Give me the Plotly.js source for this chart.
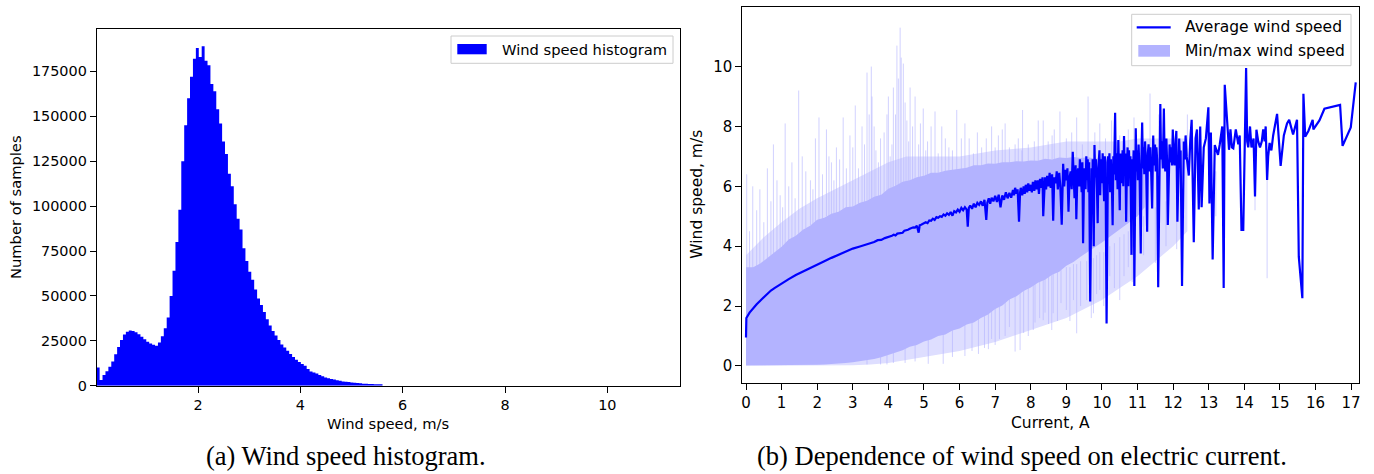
<!DOCTYPE html>
<html>
<head>
<meta charset="utf-8">
<script src="https://cdn.plot.ly/plotly-3.0.1.min.js"></script>
<style>html,body{margin:0;padding:0;background:#fff;}#chart{width:1374px;height:474px;}</style>
</head>
<body>
<div id="chart"></div>
<script>
// ---------- (a) Histogram data ----------
const binStart = 0.02;
const binWidth = 0.057;
const histCounts = [
10200,3200,5900,8000,10500,13500,17500,21500,25500,28500,
30000,30800,30500,29800,28700,27300,25900,24500,23500,22800,
22300,24000,27500,32000,38000,50000,64000,80000,98000,125000,
145000,160000,172000,182000,188000,183000,189000,181000,178500,168000,
164000,154000,146000,136000,129000,118000,111000,101000,93000,87000,
76500,69500,63500,59000,53500,48500,45000,41000,37000,33500,
30500,28000,25500,23000,21300,19500,17600,16000,14400,13200,
12100,11100,9300,7900,7300,6800,6000,5300,4600,4100,
3700,3400,3100,2700,2400,2200,2000,1800,1600,1450,
1300,1150,1050,950,900,850,800,750
];
const histXTicks = [2,4,6,8,10];
const histYTicks = [0,25000,50000,75000,100000,125000,150000,175000];

// ---------- (b) Average wind speed vs current: [current A, wind m/s] ----------
const avgLow = [
[0,0.95],[0.01,1.6],[0.1,1.78],[0.2,1.93],[0.3,2.06],[0.4,2.18],[0.5,2.3],[0.6,2.42],[0.7,2.52],[0.8,2.6],
[0.9,2.68],[1.0,2.75],[1.2,2.9],[1.4,3.04],[1.6,3.16],[1.8,3.28],[2.0,3.38],[2.2,3.5],[2.4,3.61],[2.6,3.72],
[2.8,3.82],[3.0,3.92],[3.2,3.99],[3.4,4.06],[3.5,4.12],[3.6,4.14],[3.7,4.2],[3.8,4.21],[3.9,4.27]
];
const avgMid = [
[4.0,4.3],[4.05,4.33],[4.1,4.35],[4.15,4.38],[4.2,4.36],[4.25,4.42],[4.3,4.43],[4.35,4.46],[4.4,4.45],[4.45,4.52],
[4.5,4.53],[4.55,4.55],[4.6,4.58],[4.65,4.6],[4.7,4.63],[4.75,4.62],[4.8,4.68],[4.85,4.45],[4.88,4.7],[4.92,4.72],
[4.96,4.75],[5.0,4.78],[5.05,4.8],[5.1,4.77],[5.15,4.86],[5.2,4.85],[5.25,4.92],[5.3,4.88],[5.35,4.97],[5.4,4.95],
[5.45,5.0],[5.5,4.98],[5.55,5.06],[5.6,5.02],[5.65,5.1],[5.7,5.05],[5.75,5.14],[5.8,5.02],[5.85,5.17],[5.9,5.13],
[5.95,5.22],[6.0,5.15],[6.05,5.28],[6.1,5.2],[6.15,5.3],[6.2,5.22],[6.23,4.65],[6.26,5.28],[6.3,5.36],[6.35,5.25],
[6.4,5.42],[6.45,5.3],[6.5,5.45],[6.55,5.38],[6.6,5.5],[6.65,5.35],[6.7,5.55],[6.75,4.88],[6.78,5.45],[6.82,5.6],
[6.86,5.42],[6.9,5.62],[6.95,5.5],[7.0,5.68],[7.05,5.48],[7.1,5.72],[7.15,5.3],[7.2,5.7],[7.25,5.55],[7.3,5.8],
[7.35,5.6],[7.4,5.78],[7.45,5.62]
];
const avgNoisy = [
[7.5,5.88],[7.53,5.7],[7.56,5.95],[7.6,5.75],[7.63,5.9],[7.67,4.82],[7.7,5.8],[7.72,5.95],[7.76,5.7],[7.8,6.0],
[7.83,5.75],[7.86,6.05],[7.9,5.8],[7.93,6.1],[7.96,5.85],[8.0,6.05],[8.03,5.8],[8.06,6.15],[8.1,5.85],[8.13,6.2],
[8.16,5.9],[8.2,6.2],[8.23,5.75],[8.26,6.25],[8.3,5.95],[8.33,6.3],[8.35,5.0],[8.38,6.2],[8.4,6.3],[8.43,5.9],
[8.46,6.35],[8.5,6.0],[8.53,6.45],[8.56,5.95],[8.6,6.4],[8.63,4.85],[8.66,6.3],[8.7,6.1],[8.73,6.5],[8.76,5.9],
[8.8,6.45],[8.83,6.0],[8.87,4.72],[8.91,6.75],[8.94,6.0],[8.97,6.55],[9.0,6.2],[9.03,6.6],[9.06,5.15],[9.09,6.3],
[9.12,6.5],[9.15,5.9],[9.18,7.15],[9.21,6.2],[9.23,5.6],[9.26,6.7],[9.28,4.9],[9.31,6.4],[9.33,6.6],[9.36,6.0],
[9.38,6.9],[9.41,6.3],[9.43,5.8],[9.45,6.8],[9.47,4.1],[9.5,6.6],[9.52,6.4],[9.54,5.9],[9.56,7.0],[9.58,6.2],
[9.6,6.9],[9.62,5.8],[9.64,6.8],[9.67,2.15],[9.69,6.4],[9.71,6.6],[9.73,5.6],[9.74,6.9],[9.77,4.0],[9.79,7.38],
[9.81,6.3],[9.83,6.9],[9.86,5.9],[9.88,4.77],[9.9,6.6],[9.93,7.2],[9.95,5.7],[9.97,6.9],[10.0,6.1],[10.02,7.1],
[10.04,6.3],[10.06,5.5],[10.08,7.0],[10.1,6.8],[10.13,1.42],[10.15,6.3],[10.17,7.0],[10.19,6.2],[10.21,7.1],[10.23,5.8],
[10.25,6.9],[10.28,6.0],[10.3,4.7],[10.32,7.0],[10.34,6.4],[10.37,8.46],[10.39,6.2],[10.41,7.1],[10.44,5.9],[10.46,7.55],
[10.48,6.3],[10.5,5.2],[10.52,7.1],[10.55,6.1],[10.58,7.2],[10.6,6.0],[10.62,7.68],[10.64,6.4],[10.66,7.1],[10.68,4.82],
[10.7,6.6],[10.72,7.3],[10.74,6.0],[10.76,7.2],[10.78,6.3],[10.8,7.0],[10.83,3.71],[10.85,6.9],[10.87,6.3],[10.89,7.2],
[10.91,2.67],[10.93,6.6],[10.95,7.94],[10.97,6.5],[10.99,7.2],[11.01,6.2],[11.03,7.4],[11.06,6.2],[11.09,3.76],[11.11,7.0],
[11.13,8.13],[11.15,6.6],[11.17,7.3],[11.19,6.4],[11.21,7.5],[11.24,6.7],[11.27,4.48],[11.29,7.1],[11.31,7.4],[11.34,6.5],
[11.36,7.3],[11.38,6.6],[11.41,5.26],[11.44,7.7],[11.46,6.7],[11.49,7.4],[11.51,6.5],[11.53,7.3],[11.55,6.9],[11.58,2.63],
[11.61,7.0],[11.64,8.75],[11.66,6.9],[11.68,7.5],[11.71,6.6],[11.74,8.6],[11.76,6.9],[11.78,6.5],[11.81,7.6],[11.83,6.8],
[11.85,4.71],[11.88,7.2],[11.9,7.4],[11.93,6.8],[11.95,7.3],[11.97,6.7],[11.99,7.9],[12.02,6.9],[12.04,6.7],[12.07,7.5],
[12.09,7.85],[12.12,4.82],[12.15,7.3],[12.17,7.6],[12.19,6.9],[12.21,7.2],[12.25,2.67],[12.28,7.3],[12.3,7.5],[12.33,6.9],
[12.35,7.7],[12.38,7.0],[12.4,6.8],[12.44,6.36],[12.48,7.5],[12.52,8.22]
];
const avgSparse = [
[12.58,4.13],[12.63,7.6],[12.67,7.9],[12.72,5.23],[12.76,8.0],[12.8,5.3],[12.86,7.3],[12.92,7.6],[12.99,8.64],[13.02,5.43],
[13.06,7.8],[13.11,3.56],[13.17,7.38],[13.26,7.05],[13.31,7.4],[13.38,8.0],[13.42,2.6],[13.45,9.39],[13.57,7.22],[13.61,7.9],
[13.65,7.3],[13.69,7.27],[13.76,7.9],[13.8,7.5],[13.83,7.4],[13.87,7.7],[13.92,4.54],[13.97,4.54],[14.05,9.95],[14.08,7.5],
[14.11,7.3],[14.16,8.0],[14.2,7.3],[14.26,7.6],[14.3,5.66],[14.34,7.89],[14.39,7.5],[14.44,7.3],[14.49,7.5],[14.53,7.9],
[14.57,7.5],[14.6,8.0],[14.64,6.21],[14.67,7.0],[14.71,7.45],[14.76,7.2],[14.81,7.7],[14.92,8.42],[15.02,6.68],[15.11,7.7],
[15.2,8.1],[15.26,8.22],[15.37,7.73],[15.48,8.22],[15.53,3.65],[15.63,2.26],[15.66,9.09],[15.71,7.66],[15.8,7.85],[15.92,8.22],
[15.94,7.9],[16.11,8.2],[16.25,8.59],[16.69,8.72],[16.76,7.35],[16.99,7.97],[17.13,9.47]
];

// dense core of the min/max envelope
const bandCurrent = [0,0.2,0.4,0.6,0.8,1.0,1.2,1.4,1.6,1.8,2.0,2.2,2.4,2.6,2.8,3.0,3.2,3.4,3.6,3.8,
4.0,4.2,4.4,4.6,4.8,5.0,5.2,5.4,5.6,5.8,6.0,6.2,6.4,6.6,6.8,7.0,7.2,7.4,7.6,7.8,
8.0,8.2,8.4,8.6,8.8,9.0,9.2,9.4,9.6,9.8,10.0,10.2,10.4,10.6,10.8,11.0,11.2];
const bandMax = [3.3,3.3,3.42,3.6,3.8,3.98,4.22,4.35,4.55,4.68,4.88,4.95,5.08,5.15,5.3,5.33,5.45,5.52,5.65,5.72,
5.92,6.02,6.15,6.2,6.3,6.35,6.45,6.45,6.52,6.55,6.6,6.62,6.7,6.7,6.76,6.75,6.8,6.8,6.84,6.83,
6.86,6.85,6.92,6.9,6.96,6.95,6.98,6.95,6.97,6.93,6.92,6.88,6.92,6.88,6.9,6.87,6.9];
const bandMin = [0.02,0.02,0.02,0.02,0.02,0.02,0.02,0.02,0.03,0.03,0.04,0.05,0.06,0.08,0.1,0.12,0.15,0.18,0.23,0.29,
0.36,0.45,0.52,0.64,0.7,0.82,0.88,1.0,1.05,1.18,1.25,1.38,1.45,1.6,1.72,1.9,2.02,2.22,2.33,2.5,
2.62,2.78,2.88,3.05,3.15,3.35,3.47,3.65,3.8,3.97,4.12,4.3,4.47,4.65,4.8,5.0,5.3];

// sparse outer part of the envelope (many thin extremes)
const hazeCurrent = [0,0.5,1,1.5,2,2.5,3,3.5,4,4.5,5,5.5,6,6.5,7,7.5,8,8.5,9,9.5,10,10.5,11,11.5,12,12.4];
const hazeMax = [3.7,4.3,4.8,5.25,5.6,5.9,6.2,6.5,6.8,7.0,7.0,7.0,7.0,7.1,7.2,7.25,7.3,7.4,7.5,7.5,7.5,7.5,7.6,7.6,7.6,7.6];
const hazeMin = [0,0,0,0,0,0,0.02,0.05,0.1,0.2,0.3,0.4,0.5,0.65,0.8,1.0,1.2,1.4,1.6,1.9,2.2,2.6,3.0,3.5,4.0,4.5];

// isolated maxima (thin spikes above the band): [current, from, to]
const upSpikes = [
[0.02,3.0,6.4],[0.1,3.2,4.5],[0.19,3.2,6.0],[0.3,3.3,5.2],[0.39,3.3,5.9],[0.5,3.4,4.8],[0.6,3.5,6.6],[0.7,3.6,5.5],
[0.77,3.6,7.4],[0.87,3.8,6.2],[0.96,3.9,5.7],[1.03,4.0,5.3],[1.1,4.0,8.1],[1.2,4.1,6.0],[1.29,4.2,6.8],[1.38,4.3,5.6],
[1.48,4.4,9.2],[1.58,4.5,7.0],[1.68,4.6,6.5],[1.81,4.7,6.2],[1.88,4.7,5.9],[1.95,4.8,7.6],[2.05,4.8,8.3],[2.15,4.9,6.4],
[2.26,5.0,7.9],[2.33,5.0,7.0],[2.4,5.0,6.8],[2.47,5.1,6.2],[2.54,5.1,7.3],[2.63,5.1,6.9],[2.73,5.2,8.3],[2.82,5.2,6.6],
[2.92,5.3,7.7],[3.0,5.3,7.3],[3.07,5.3,8.7],[3.16,5.4,6.6],[3.26,5.4,8.0],[3.33,5.4,7.4],[3.4,5.5,9.8],[3.46,5.5,8.4],
[3.52,5.5,10.0],[3.54,5.5,9.0],[3.6,5.6,8.0],[3.65,5.6,7.2],[3.72,5.6,6.8],[3.78,5.7,7.6],[3.88,5.7,7.8],[3.96,5.8,8.4],
[4.0,5.8,9.0],[4.05,5.8,7.0],[4.1,5.9,7.4],[4.14,5.9,9.3],[4.2,6.0,8.4],[4.24,6.0,10.7],[4.28,6.0,9.6],[4.33,6.0,11.3],
[4.36,6.0,10.3],[4.42,6.1,10.1],[4.47,6.1,8.8],[4.52,6.1,8.2],[4.57,6.1,7.5],[4.61,6.1,9.3],[4.68,6.1,8.0],[4.75,6.2,9.0],
[4.85,6.2,7.4],[4.9,6.2,8.1],[4.98,6.3,8.6],[5.05,6.3,7.2],[5.1,6.3,7.5],[5.2,6.3,8.0],[5.31,6.4,8.5],[5.4,6.4,7.1],
[5.5,6.4,8.0],[5.6,6.4,7.6],[5.7,6.4,7.3],[5.8,6.5,7.2],[5.92,6.5,8.55],[6.05,6.5,7.6],[6.15,6.5,8.1],[6.27,6.6,7.6],
[6.39,6.6,7.1],[6.5,6.6,7.8],[6.62,6.6,7.3],[6.75,6.6,7.6],[6.9,6.7,8.0],[7.0,6.7,7.3],[7.09,6.7,7.7],[7.2,6.7,7.9],
[7.28,6.7,8.1],[7.4,6.7,7.3],[7.56,6.7,7.4],[7.65,6.7,7.6],[7.75,6.7,7.2],[7.77,6.7,8.55],[7.93,6.8,7.4],[8.1,6.8,7.5],
[8.21,6.8,8.2],[8.35,6.8,8.2],[8.49,6.8,7.5],[8.6,6.9,7.7],[8.66,6.9,7.9],[8.82,6.9,8.5],[9.0,6.9,7.6],[9.15,6.9,7.8],
[9.29,6.9,8.3],[9.45,6.9,7.4],[9.61,6.9,9.0],[9.8,6.9,7.8],[9.94,6.9,8.1],[10.1,6.9,7.6],[10.27,6.9,8.2],[10.5,6.9,7.7],
[10.74,6.9,7.9],[10.9,7.0,8.3],[11.35,7.0,9.1],[11.6,7.0,8.4],[12.0,7.0,7.9],[12.4,7.0,8.4]
];

// isolated minima (thin spikes below the band): [current, from, to]
const downSpikes = [
[3.4,0.5,0.05],[3.78,0.6,0.05],[3.96,0.8,0.05],[4.14,0.9,0.1],[4.47,1.0,0.1],[4.75,1.1,0.15],[5.12,1.2,0.07],[5.54,1.4,0.07],
[5.8,1.6,0.3],[6.15,1.7,0.33],[6.35,1.8,0.5],[6.53,2.0,0.4],[6.7,2.0,0.6],[6.81,2.3,0.56],[6.9,2.3,0.9],[7.0,2.4,0.7],
[7.12,2.5,0.9],[7.28,2.6,1.0],[7.4,2.6,1.3],[7.56,2.7,0.48],[7.7,2.7,0.53],[7.8,2.8,1.1],[7.93,2.8,1.0],[8.07,2.9,1.2],
[8.12,2.9,1.45],[8.25,3.0,1.6],[8.35,3.0,1.53],[8.4,3.0,1.78],[8.5,3.1,1.4],[8.59,3.1,1.2],[8.63,3.1,1.76],[8.75,3.2,1.5],
[8.85,3.2,2.1],[9.0,3.3,1.87],[9.1,3.3,1.5],[9.2,3.4,2.2],[9.29,3.4,1.09],[9.4,3.5,2.0],[9.57,3.5,2.2],[9.7,3.6,1.6],
[9.76,3.6,1.76],[9.85,3.7,2.4],[9.94,3.8,2.54],[10.05,3.8,2.0],[10.22,4.0,3.0],[10.35,4.1,2.6],[10.5,4.3,2.2],[10.62,4.4,3.0],
[10.74,4.5,3.3],[10.85,4.6,2.8],[11.17,5.0,3.7],[11.5,5.3,3.44],[11.8,5.5,4.0],[12.1,5.7,3.9],[12.58,6.0,4.4],[13.2,6.5,5.0],
[14.3,6.5,5.2],[14.64,6.5,2.93]
];

const curXTicks = [0,1,2,3,4,5,6,7,8,9,10,11,12,13,14,15,16,17];
const curYTicks = [0,2,4,6,8,10];

// ---------- geometry helpers (pixel -> paper) ----------
const W = 1374, H = 474;
const px = x => x / W;
const py = y => 1 - y / H;

const BLUE = '#0000ff';
const CORE = 'rgb(179,179,255)';
const HAZE = 'rgb(222,222,255)';
const FONT = 'DejaVu Sans';

// histogram as a single stepped outline (bin edges), filled to zero
const histEdges = histCounts.map((c, i) => binStart + binWidth * i).concat([binStart + binWidth * histCounts.length]);
const histStepY = histCounts.concat([histCounts[histCounts.length - 1]]);

const avgAll = avgLow.concat(avgMid, avgNoisy, avgSparse);
const avgCurrent = avgAll.map(p => p[0]);
const avgWind = avgAll.map(p => p[1]);

const traces = [];
traces.push({
  type: 'scatter', mode: 'lines', x: histEdges, y: histStepY,
  line: {shape: 'hv', width: 0, color: BLUE}, fill: 'tozeroy', fillcolor: BLUE,
  xaxis: 'x', yaxis: 'y', name: 'Wind speed histogram', hoverinfo: 'skip'
});

// outer haze band
traces.push({type: 'scatter', mode: 'lines', x: hazeCurrent, y: hazeMin, line: {width: 0, color: HAZE},
  xaxis: 'x2', yaxis: 'y2', hoverinfo: 'skip', showlegend: false});
traces.push({type: 'scatter', mode: 'lines', x: hazeCurrent, y: hazeMax, line: {width: 0, color: HAZE},
  fill: 'tonexty', fillcolor: HAZE, xaxis: 'x2', yaxis: 'y2', hoverinfo: 'skip', showlegend: false});

// spikes
const sx = [], sy = [];
upSpikes.concat(downSpikes).forEach(s => { sx.push(s[0], s[0], null); sy.push(s[1], s[2], null); });
traces.push({
  type: 'scatter', mode: 'lines', x: sx, y: sy, connectgaps: false,
  line: {width: 1, color: 'rgba(179,179,255,0.6)'},
  xaxis: 'x2', yaxis: 'y2', hoverinfo: 'skip', showlegend: false
});

// dense core band
traces.push({type: 'scatter', mode: 'lines', x: bandCurrent, y: bandMin, line: {width: 0, color: CORE},
  xaxis: 'x2', yaxis: 'y2', hoverinfo: 'skip', showlegend: false});
traces.push({type: 'scatter', mode: 'lines', x: bandCurrent, y: bandMax, line: {width: 0, color: CORE},
  fill: 'tonexty', fillcolor: CORE, xaxis: 'x2', yaxis: 'y2', name: 'Min/max wind speed', hoverinfo: 'skip'});

traces.push({
  type: 'scatter', mode: 'lines', x: avgCurrent, y: avgWind,
  line: {width: 2.2, color: BLUE}, xaxis: 'x2', yaxis: 'y2', name: 'Average wind speed', hoverinfo: 'skip'
});

const axisBase = {
  showline: true, linecolor: '#000', linewidth: 1, mirror: true,
  ticks: 'outside', ticklen: 6, tickwidth: 1, tickcolor: '#000',
  showgrid: false, zeroline: false, fixedrange: true
};

const layout = {
  width: W, height: H,
  margin: {l: 0, r: 0, t: 0, b: 0},
  paper_bgcolor: '#fff', plot_bgcolor: '#fff',
  showlegend: false, hovermode: false,
  font: {family: FONT, color: '#000'},
  xaxis: Object.assign({}, axisBase, {
    domain: [px(96.7), px(680)], range: [0.02, 11.42], anchor: 'y',
    tickmode: 'array', tickvals: histXTicks, tickfont: {family: FONT, size: 14.4, color: '#000'}
  }),
  yaxis: Object.assign({}, axisBase, {
    domain: [py(385.7), py(29.3)], range: [0, 198450], anchor: 'x',
    tickmode: 'array', tickvals: histYTicks, tickformat: 'd', tickfont: {family: FONT, size: 14.4, color: '#000'}
  }),
  xaxis2: Object.assign({}, axisBase, {
    domain: [px(742.3), px(1359.3)], range: [-0.104, 17.23], anchor: 'y2',
    tickmode: 'array', tickvals: curXTicks, tickfont: {family: FONT, size: 15, color: '#000'}
  }),
  yaxis2: Object.assign({}, axisBase, {
    domain: [py(382.7), py(6.7)], range: [-0.56, 12.0], anchor: 'x2',
    tickmode: 'array', tickvals: curYTicks, tickfont: {family: FONT, size: 15, color: '#000'}
  }),
  shapes: [
    {type: 'rect', xref: 'paper', yref: 'paper', x0: px(451), x1: px(673), y0: py(63.3), y1: py(36),
     line: {color: '#cccccc', width: 1}, fillcolor: 'rgba(255,255,255,0.8)'},
    {type: 'rect', xref: 'paper', yref: 'paper', x0: px(457.3), x1: px(486.7), y0: py(54.3), y1: py(44),
     line: {width: 0}, fillcolor: BLUE},
    {type: 'rect', xref: 'paper', yref: 'paper', x0: px(1131.7), x1: px(1351), y0: py(65.7), y1: py(14.3),
     line: {color: '#cccccc', width: 1}, fillcolor: 'rgba(255,255,255,0.8)'},
    {type: 'line', xref: 'paper', yref: 'paper', x0: px(1136.7), x1: px(1170.7), y0: py(27.3), y1: py(27.3),
     line: {color: BLUE, width: 2.2}},
    {type: 'rect', xref: 'paper', yref: 'paper', x0: px(1138.3), x1: px(1170), y0: py(56.7), y1: py(45),
     line: {width: 0}, fillcolor: CORE}
  ],
  annotations: [
    {text: 'Number of samples', x: px(15.5), y: py(207.5), textangle: -90, font: {size: 14.7}},
    {text: 'Wind speed, m/s', x: px(388.4), y: py(423), font: {size: 14.7}},
    {text: 'Wind speed histogram', x: px(500), y: py(49.5), xanchor: 'left', font: {size: 14.7}},
    {text: 'Wind speed, m/s', x: px(697), y: py(194.7), textangle: -90, font: {size: 15.5}},
    {text: 'Current, A', x: px(1050.8), y: py(422.7), font: {size: 15.5}},
    {text: 'Average wind speed', x: px(1182.7), y: py(27.3), xanchor: 'left', font: {size: 15.5}},
    {text: 'Min/max wind speed', x: px(1182.7), y: py(50.7), xanchor: 'left', font: {size: 15.5}},
    {text: '(a) Wind speed histogram.', x: px(346), y: py(456), font: {family: 'Liberation Serif', size: 26.5}},
    {text: '(b) Dependence of wind speed on electric current.', x: px(1022), y: py(456), font: {family: 'Liberation Serif', size: 26.5}}
  ].map(a => Object.assign({xref: 'paper', yref: 'paper', showarrow: false, xanchor: 'center', yanchor: 'middle'}, a,
       {font: Object.assign({family: FONT, color: '#000'}, a.font)}))
};

Plotly.newPlot('chart', traces, layout, {staticPlot: true, displayModeBar: false});
</script>
</body>
</html>
